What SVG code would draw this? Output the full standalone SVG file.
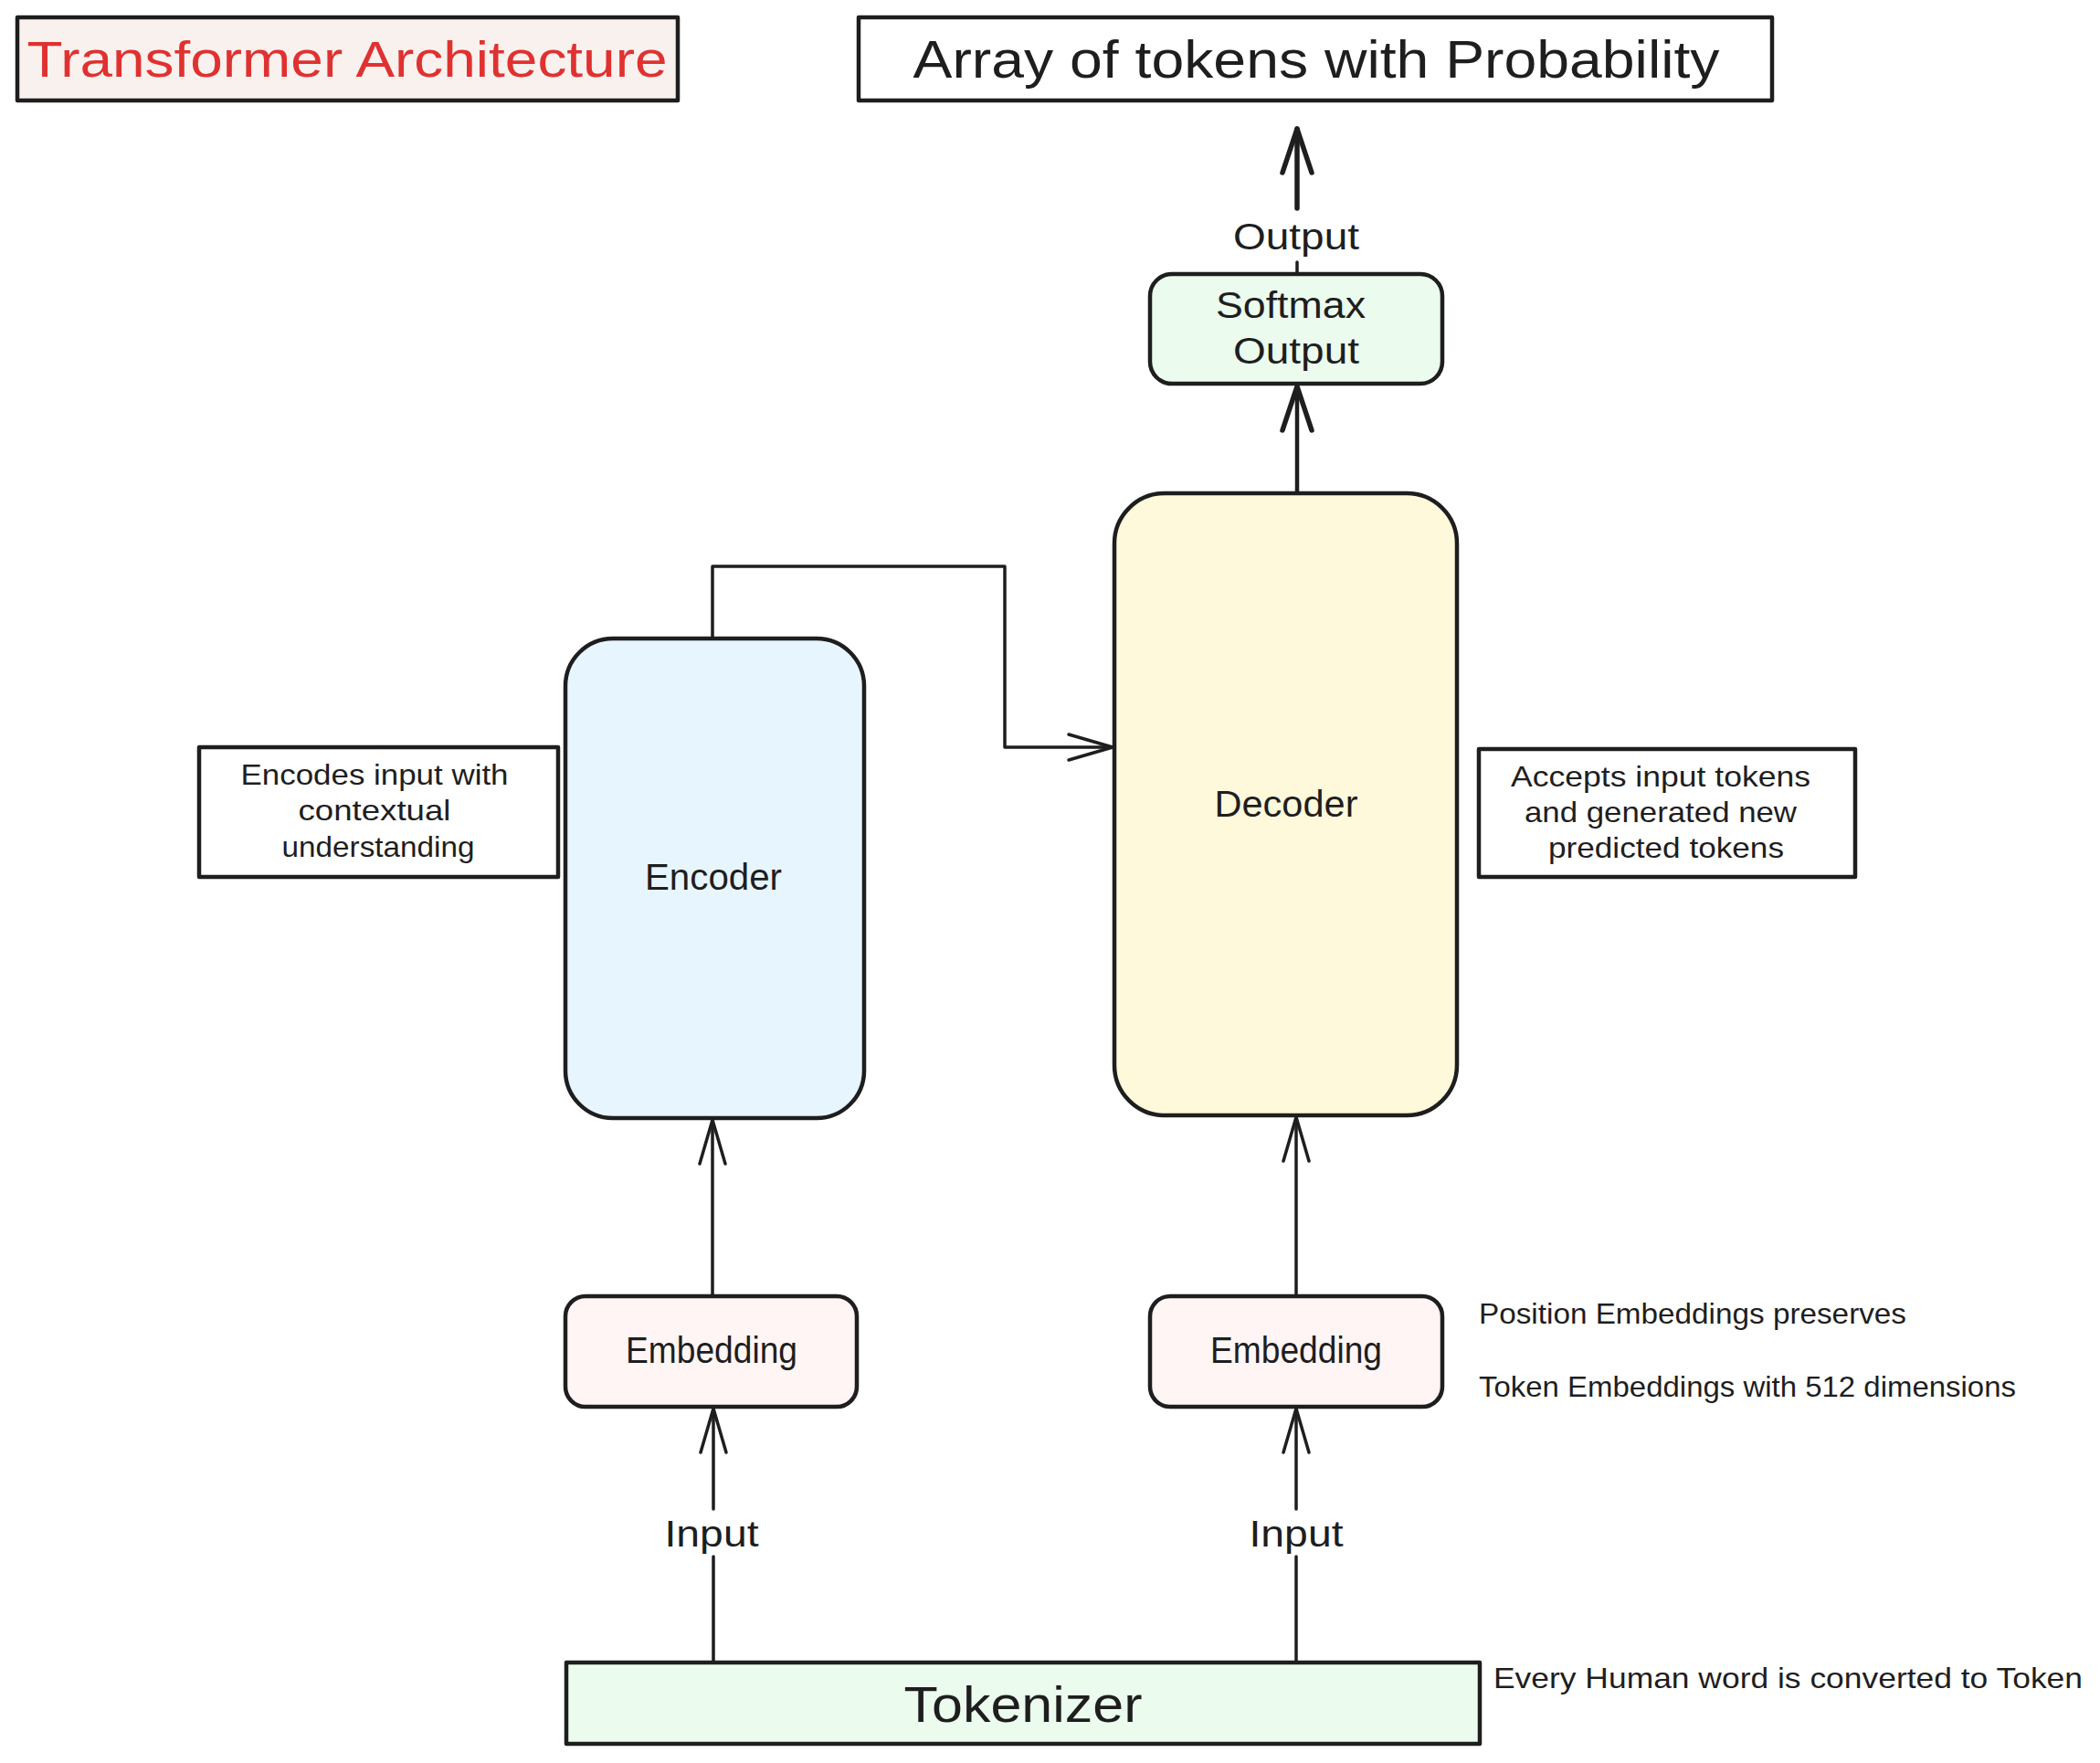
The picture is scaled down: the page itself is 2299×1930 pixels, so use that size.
<svg xmlns="http://www.w3.org/2000/svg" width="2299" height="1930" viewBox="0 0 2299 1930">
  <defs>
    <style>
      .box { stroke: #1e1e1e; stroke-width: 4.5; stroke-linejoin: round; }
      .conn { fill: none; stroke: #1e1e1e; stroke-width: 3.5; stroke-linecap: round; stroke-linejoin: round; }
      .bold { stroke-width: 5.5; }
      .t { font-family: "Liberation Sans", Arial, sans-serif; fill: #1e1e1e; text-anchor: middle; dominant-baseline: central; }
      .tl { font-family: "Liberation Sans", Arial, sans-serif; fill: #1e1e1e; text-anchor: start; dominant-baseline: central; font-size: 32px; }
      .lbl { font-size: 40px; }
      .sm { font-size: 32px; }
    </style>
    <marker id="arrow" markerUnits="userSpaceOnUse" markerWidth="80" markerHeight="60" refX="0" refY="0" viewBox="-60 -30 80 60" orient="auto" overflow="visible">
      <path d="M -48 -14 L 0 0 L -48 14" fill="none" stroke="#1e1e1e" stroke-width="3.5" stroke-linecap="round" stroke-linejoin="round"/>
    </marker>
    <marker id="arrowBold" markerUnits="userSpaceOnUse" markerWidth="80" markerHeight="60" refX="0" refY="0" viewBox="-60 -30 80 60" orient="auto" overflow="visible">
      <path d="M -48 -16 L 0 0 L -48 16" fill="none" stroke="#1e1e1e" stroke-width="5.5" stroke-linecap="round" stroke-linejoin="round"/>
    </marker>
  </defs>

  <rect width="2299" height="1930" fill="#ffffff"/>

  <g id="connectors">
    <!-- Tokenizer -> Embedding (left) -->
    <path class="conn" d="M 781 1820 V 1704"/>
    <path class="conn" d="M 781 1652 V 1542" marker-end="url(#arrow)"/>
    <!-- Tokenizer -> Embedding (right) -->
    <path class="conn" d="M 1419 1820 V 1704"/>
    <path class="conn" d="M 1419 1652 V 1542" marker-end="url(#arrow)"/>
    <!-- Embedding -> Encoder -->
    <path class="conn" d="M 780 1419 V 1226" marker-end="url(#arrow)"/>
    <!-- Embedding -> Decoder -->
    <path class="conn" d="M 1419 1419 V 1223" marker-end="url(#arrow)"/>
    <!-- Encoder -> Decoder -->
    <path class="conn" d="M 780 699 V 620 H 1100 V 818 H 1218" marker-end="url(#arrow)"/>
    <!-- Decoder -> Softmax -->
    <path class="conn" style="stroke-width:4.5" d="M 1420 540 V 423" marker-end="url(#arrowBold)"/>
    <!-- Softmax -> Array output -->
    <path class="conn" d="M 1420 300 V 287"/>
    <path class="conn bold" d="M 1420 228 V 141" marker-end="url(#arrowBold)"/>
  </g>

  <g id="labels">
    <text class="t lbl" x="779" y="1679" textLength="103" lengthAdjust="spacingAndGlyphs">Input</text>
    <text class="t lbl" x="1419" y="1679" textLength="103" lengthAdjust="spacingAndGlyphs">Input</text>
    <text class="t lbl" x="1419" y="259" textLength="138" lengthAdjust="spacingAndGlyphs">Output</text>
  </g>

  <g id="title">
    <rect class="box" x="19" y="19" width="723" height="91" fill="#f8f1ee"/>
    <text class="t" x="380" y="64" font-size="56" fill="#e03131" style="fill:#e03131" textLength="701" lengthAdjust="spacingAndGlyphs">Transformer Architecture</text>
  </g>

  <g id="array-output">
    <rect class="box" x="940" y="19" width="1000" height="91" fill="#ffffff"/>
    <text class="t" x="1441" y="64" font-size="58" textLength="883" lengthAdjust="spacingAndGlyphs">Array of tokens with Probability</text>
  </g>

  <g id="softmax">
    <rect class="box" x="1259" y="300" width="320" height="120" rx="24" fill="#ebfbee"/>
    <text class="t lbl" x="1413" y="334" textLength="164" lengthAdjust="spacingAndGlyphs">Softmax</text>
    <text class="t lbl" x="1419" y="384" textLength="138" lengthAdjust="spacingAndGlyphs">Output</text>
  </g>

  <g id="decoder">
    <rect class="box" x="1220" y="540" width="375" height="681" rx="55" fill="#fff9db"/>
    <text class="t lbl" x="1408" y="880" textLength="157" lengthAdjust="spacingAndGlyphs">Decoder</text>
  </g>

  <g id="encoder">
    <rect class="box" x="619" y="699" width="327" height="525" rx="52" fill="#e7f5ff"/>
    <text class="t lbl" x="781" y="960" textLength="150" lengthAdjust="spacingAndGlyphs">Encoder</text>
  </g>

  <g id="encoder-note">
    <rect class="box" x="218" y="818" width="393" height="142" fill="#ffffff"/>
    <text class="t sm" x="410" y="848" textLength="293" lengthAdjust="spacingAndGlyphs">Encodes input with</text>
    <text class="t sm" x="410" y="887" textLength="167" lengthAdjust="spacingAndGlyphs">contextual</text>
    <text class="t sm" x="414" y="927" textLength="211" lengthAdjust="spacingAndGlyphs">understanding</text>
  </g>

  <g id="decoder-note">
    <rect class="box" x="1619" y="820" width="412" height="140" fill="#ffffff"/>
    <text class="t sm" x="1818" y="850" textLength="328" lengthAdjust="spacingAndGlyphs">Accepts input tokens</text>
    <text class="t sm" x="1818" y="889" textLength="298" lengthAdjust="spacingAndGlyphs">and generated new</text>
    <text class="t sm" x="1824" y="928" textLength="258" lengthAdjust="spacingAndGlyphs">predicted tokens</text>
  </g>

  <g id="embedding-encoder">
    <rect class="box" x="619" y="1419" width="319" height="121" rx="22" fill="#fff5f5"/>
    <text class="t lbl" x="779" y="1478" textLength="188" lengthAdjust="spacingAndGlyphs">Embedding</text>
  </g>

  <g id="embedding-decoder">
    <rect class="box" x="1259" y="1419" width="320" height="121" rx="22" fill="#fff5f5"/>
    <text class="t lbl" x="1419" y="1478" textLength="188" lengthAdjust="spacingAndGlyphs">Embedding</text>
  </g>

  <g id="embedding-notes">
    <text class="tl" x="1619" y="1438" textLength="468" lengthAdjust="spacingAndGlyphs">Position Embeddings preserves</text>
    <text class="tl" x="1619" y="1518" textLength="588" lengthAdjust="spacingAndGlyphs">Token Embeddings with 512 dimensions</text>
  </g>

  <g id="tokenizer">
    <rect class="box" x="620" y="1820" width="1000" height="89" fill="#ebfbee"/>
    <text class="t" x="1120" y="1865" font-size="56" textLength="261" lengthAdjust="spacingAndGlyphs">Tokenizer</text>
  </g>

  <g id="tokenizer-note">
    <text class="tl" x="1635" y="1837" textLength="645" lengthAdjust="spacingAndGlyphs">Every Human word is converted to Token</text>
  </g>
</svg>
